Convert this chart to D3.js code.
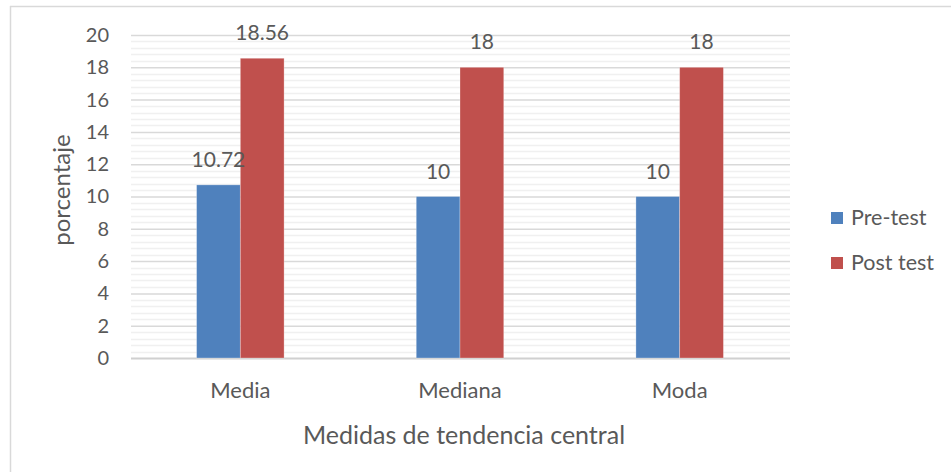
<!DOCTYPE html>
<html><head><meta charset="utf-8">
<script src="https://cdn.jsdelivr.net/npm/d3@7"></script>
<style>body{margin:0;background:#fff}svg{display:block}text{font-family:Lato,"Open Sans",sans-serif;fill:#595959}</style>
</head><body>
<script>
const categories = ["Media", "Mediana", "Moda"];
const seriesNames = ["Pre-test", "Post test"];
const preTest = [10.72, 10, 10];
const postTest = [18.56, 18, 18];
const labels = [["10.72","10","10"],["18.56","18","18"]];
const yTicks = [0,2,4,6,8,10,12,14,16,18,20];
const colors = ["#4f81bd", "#c0504d"];

const W = 951, H = 472;
const svg = d3.select("body").append("svg").attr("width", W).attr("height", H);

// chart border (top and left visible)
svg.append("line").attr("x1",10).attr("x2",W).attr("y1",6.5).attr("y2",6.5).attr("stroke","#d9d9d9").attr("stroke-width",1.5);
svg.append("line").attr("x1",10.5).attr("x2",10.5).attr("y1",6).attr("y2",H).attr("stroke","#d9d9d9").attr("stroke-width",1.5);

const x0 = d3.scaleBand().domain(categories).range([130.5, 789.5]);
const x1 = d3.scaleBand().domain(seriesNames).range([0, 87.5]);
const y = d3.scaleLinear().domain([0, 20]).range([358, 35]);

// minor gridlines
const minor = d3.range(0, 20.001, 0.4).filter(v => Math.abs(v/2 - Math.round(v/2)) > 1e-6);
svg.append("g").selectAll("line").data(minor).join("line")
  .attr("x1", 131).attr("x2", 790)
  .attr("y1", d => Math.round(y(d)) + 0.5).attr("y2", d => Math.round(y(d)) + 0.5)
  .attr("stroke", "#f0f0f0").attr("stroke-width", 1.5);

// major gridlines via axis
const gy = svg.append("g").attr("transform", "translate(790,0)");
gy.call(d3.axisLeft(y).tickValues(yTicks).tickSize(659).tickFormat(""));
gy.select(".domain").remove();
gy.selectAll("line").attr("stroke", d => d === 0 ? "#d0d0d0" : "#d9d9d9").attr("stroke-width", d => d===0?2:1.5);

const gl = svg.append("g").attr("transform", "translate(109,0)");
gl.call(d3.axisLeft(y).tickValues(yTicks).tickSize(0).tickPadding(0));
gl.select(".domain").remove();
gl.selectAll("text").style("font-size","20px").attr("fill","#595959").style("font-family","Lato,'Open Sans',sans-serif");

// bars
const data = categories.map((c, i) => ({c, vals: [preTest[i], postTest[i]]}));
const groups = svg.append("g").selectAll("g").data(data).join("g")
  .attr("transform", d => `translate(${x0(d.c) + (x0.bandwidth() - 87.5)/2},0)`);
groups.selectAll("rect").data((d) => d.vals.map((v, j) => ({v, j}))).join("rect")
  .attr("x", d => x1(seriesNames[d.j])).attr("width", x1.bandwidth())
  .attr("y", d => y(d.v)).attr("height", d => y(0) - y(d.v))
  .attr("fill", d => colors[d.j]).attr("stroke", "rgba(255,255,255,0.35)").attr("stroke-width", 0.8);

// data labels
groups.selectAll("text.lbl").data((d, i) => d.vals.map((v, j) => ({v, j, t: labels[j][i]}))).join("text")
  .attr("class","lbl")
  .attr("x", d => x1(seriesNames[d.j]) + x1.bandwidth()/2).attr("y", d => y(d.v) - 18)
  .attr("text-anchor","middle").style("font-size","21px").text(d => d.t);

// category axis labels
const gx = svg.append("g").attr("transform", "translate(0,358)");
gx.call(d3.axisBottom(x0).tickSize(0).tickPadding(0));
gx.select(".domain").remove();
gx.selectAll("text").attr("dy", null).attr("y", 40).style("font-size","22px").attr("fill","#595959").style("font-family","Lato,'Open Sans',sans-serif");

// axis titles
svg.append("text").attr("x", 464).attr("y", 444).attr("text-anchor","middle").style("font-size","25px").text("Medidas de tendencia central");
svg.append("text").attr("transform","translate(70,190) rotate(-90)").attr("text-anchor","middle").style("font-size","24px").text("porcentaje");

// legend
const lg = svg.append("g").selectAll("g").data(seriesNames).join("g")
  .attr("transform", (d, i) => `translate(831,${212 + i*45})`);
lg.append("rect").attr("width", 12).attr("height", 12).attr("fill", (d, i) => colors[i]);
lg.append("text").attr("x", 20).attr("y", 13).style("font-size","21.5px").text(d => d);
</script>
</body></html>
